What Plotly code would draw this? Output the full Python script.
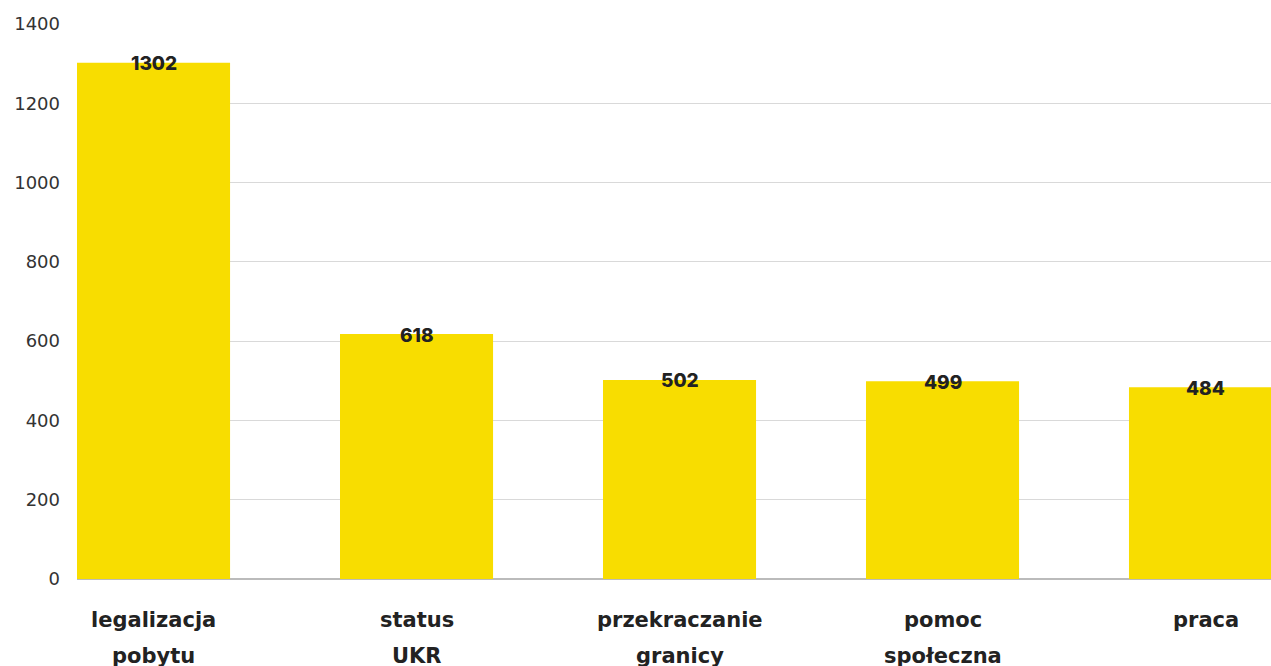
import plotly.graph_objects as go

categories = ["legalizacja pobytu", "status UKR", "przekraczanie granicy", "pomoc społeczna", "praca"]
label_lines = [["legalizacja", "pobytu"], ["status", "UKR"], ["przekraczanie", "granicy"], ["pomoc", "społeczna"], ["praca"]]
values = [1302, 618, 502, 499, 484]
y_ticks = [0, 200, 400, 600, 800, 1000, 1200, 1400]

BAR = "#F8DD00"
TEXT = "#222222"
VALUE_FONT = "Inter"
LABEL_FONT = "DejaVu Sans"

xpos = list(range(len(categories)))

fig = go.Figure()
fig.add_trace(go.Bar(
    x=xpos, y=values, marker=dict(color=BAR, line=dict(width=0)),
    width=0.582, hoverinfo="skip", showlegend=False,
))

# value labels sitting on the top edge of each bar
for x, v in zip(xpos, values):
    fig.add_annotation(
        x=x, y=v, xref="x", yref="y", yanchor="middle", yshift=-1,
        text=str(v), showarrow=False,
        font=dict(family=VALUE_FONT, size=19, color=TEXT, weight=800),
    )

# two-line category labels below the axis
for i, lines in enumerate(label_lines):
    for j, line in enumerate(lines):
        fig.add_annotation(
            x=i, xref="x", y=0, yref="paper", yanchor="middle",
            yshift=-41 - 36 * j, text=line, showarrow=False,
            font=dict(family=LABEL_FONT, size=21, color=TEXT, weight="bold"),
        )

fig.update_layout(
    width=1271, height=666,
    margin=dict(l=77, r=0, t=24, b=87),
    paper_bgcolor="white", plot_bgcolor="white",
    font=dict(family=LABEL_FONT, color="#333333"),
)
fig.update_xaxes(
    range=[-0.291, 4.249], showticklabels=False, showgrid=False,
    zeroline=False, showline=False, fixedrange=True,
)
fig.update_yaxes(
    range=[0, 1400], tickvals=y_ticks, ticktext=[str(t) for t in y_ticks],
    showgrid=True, gridcolor="#d9d9d9", gridwidth=1,
    zeroline=True, zerolinecolor="#bbbbbb", zerolinewidth=2,
    tickfont=dict(family=LABEL_FONT, size=18, color="#333333"),
    ticklabelstandoff=16, ticks="", fixedrange=True,
)

fig.write_html("out.html", config={"displayModeBar": False})
